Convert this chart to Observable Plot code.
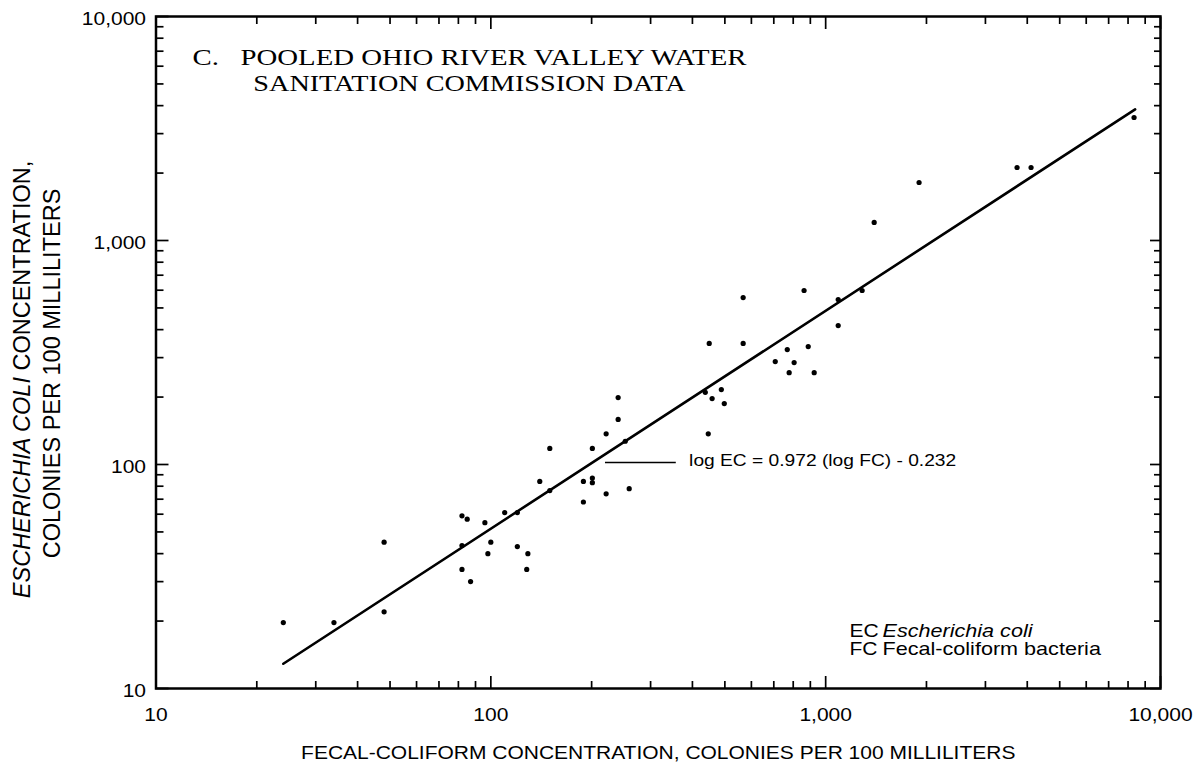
<!DOCTYPE html>
<html><head><meta charset="utf-8">
<script src="https://cdn.jsdelivr.net/npm/d3@7"></script>
<script src="https://cdn.jsdelivr.net/npm/@observablehq/plot@0.6"></script>
<style>
html,body{margin:0;padding:0;background:#fff;}
#chart{width:1203px;height:769px;overflow:hidden;}
</style></head><body><div id="chart"></div>
<script>
// ---- data ----
const fc = [24, 34, 48, 48, 82, 85, 82, 82, 87, 96, 100, 98, 110, 120, 120, 129, 128, 140, 150, 150,
            189, 201, 201, 189, 201, 221, 240, 240, 252, 221, 259, 437, 458, 488, 498, 446, 449, 567, 567,
            707, 768, 778, 805, 887, 924, 862, 1090, 1090, 1285, 1396, 1901, 3729, 4106, 8337];
const ec = [19.7, 19.7, 45, 22, 59, 57, 43.5, 34, 30, 55, 45, 40, 61, 61, 43, 40, 34, 84, 118, 76.5,
            84, 87, 83, 68, 118, 137, 199, 159, 127, 74, 78, 210, 197, 216, 187, 137, 347, 556, 347,
            288, 326, 257, 285, 336, 257, 598, 545, 417, 598, 1204, 1815, 2118, 2118, 3541];
// regression line log EC = 0.972 (log FC) - 0.232, end points
const lineFC = [24, 8400];
const lineEC = [12.9, 3850];

const majorTicks = [10, 100, 1000, 10000];
const minorTicks = [20, 30, 40, 50, 60, 70, 80, 90, 200, 300, 400, 500, 600, 700, 800, 900,
                    2000, 3000, 4000, 5000, 6000, 7000, 8000, 9000];
const tickLabels = ["10", "100", "1,000", "10,000"];

const titleLines = ["C.\u00a0\u00a0 POOLED OHIO RIVER VALLEY WATER", "SANITATION COMMISSION DATA"];
const xLabel = "FECAL-COLIFORM CONCENTRATION, COLONIES PER 100 MILLILITERS";
const yLabelItalic = "ESCHERICHIA COLI";
const yLabelLines = ["ESCHERICHIA COLI CONCENTRATION,", "COLONIES PER 100 MILLILITERS"];
const equation = "log EC = 0.972 (log FC) - 0.232";
const legendCodes = ["EC", "FC"];
const legendNames = ["Escherichia coli", "Fecal-coliform bacteria"];

// annotation anchor (data units)
const leader = {fc1: 220, fc2: 358, ec: 102};
const eqAt = {fc: 391, ec: 102};

const points = fc.map((v, i) => ({fc: v, ec: ec[i]}));
const fitLine = lineFC.map((v, i) => ({fc: v, ec: lineEC[i]}));

const sans = "'Liberation Sans', Arial, Helvetica, sans-serif";
const serif = "'Liberation Serif', 'Times New Roman', Times, serif";
const fmt = d => tickLabels[majorTicks.indexOf(d)];
const tk = {fill: "none", stroke: "#000", strokeWidth: 1.7, label: null};

const chart = Plot.plot({
  width: 1203, height: 769,
  marginLeft: 155.5, marginRight: 43, marginTop: 16, marginBottom: 81,
  style: {background: "#fff", color: "#000", fontFamily: sans},
  x: {type: "log", domain: [10, 10000]},
  y: {type: "log", domain: [10, 10000]},
  marks: [
    Plot.axisX(minorTicks, {...tk, anchor: "bottom", tickSize: -7}),
    Plot.axisX(majorTicks, {...tk, anchor: "bottom", tickSize: -12}),
    Plot.axisX(minorTicks, {...tk, anchor: "top", tickSize: -7}),
    Plot.axisX(majorTicks, {...tk, anchor: "top", tickSize: -12}),
    Plot.axisY(minorTicks, {...tk, anchor: "left", tickSize: -8}),
    Plot.axisY(majorTicks, {...tk, anchor: "left", tickSize: -13}),
    Plot.axisY(minorTicks, {...tk, anchor: "right", tickSize: -7}),
    Plot.axisY(majorTicks, {...tk, anchor: "right", tickSize: -11}),
    Plot.axisX(majorTicks, {anchor: "bottom", tickSize: 0, tickPadding: 20, tickFormat: fmt,
      fontSize: 17.5, fill: "#000", label: null}),
    Plot.axisY(majorTicks, {anchor: "left", tickSize: 0, tickPadding: 10, tickFormat: fmt,
      fontSize: 17.5, fill: "#000", dy: 3, label: null}),
    Plot.frame({stroke: "#000", strokeWidth: 2.5}),
    Plot.line(fitLine, {x: "fc", y: "ec", stroke: "#000", strokeWidth: 2.6}),
    Plot.dot(points, {x: "fc", y: "ec", r: 2.6, fill: "#000", stroke: "none"}),
    Plot.ruleY([leader], {y: "ec", x1: "fc1", x2: "fc2", stroke: "#000", strokeWidth: 1.4}),
    Plot.text([equation], {x: () => eqAt.fc, y: () => eqAt.ec, text: d => d, textAnchor: "start",
      lineAnchor: "middle", fontSize: 16, fill: "#000", dy: -2}),
    Plot.text([titleLines[0]], {text: d => d, frameAnchor: "top-left", dx: 313.5, dy: 31,
      textAnchor: "middle", lineAnchor: "top", fontFamily: serif, fontSize: 24, fill: "#000"}),
    Plot.text([titleLines[1]], {text: d => d, frameAnchor: "top-left", dx: 313.5, dy: 58,
      textAnchor: "middle", lineAnchor: "top", fontFamily: serif, fontSize: 23.5, fill: "#000"}),
    Plot.text([xLabel], {text: d => d, frameAnchor: "bottom", dy: 65, textAnchor: "middle",
      lineAnchor: "middle", fontSize: 17.5, fill: "#000"}),
    ...yLabelLines.map((s, i) => Plot.text([s], {text: d => d, frameAnchor: "left", dx: i === 0 ? -134 : -104,
      dy: i === 0 ? 27 : 21, rotate: -90, textAnchor: "middle", lineAnchor: "middle", fontSize: 23.5, fill: "#000"})),
    ...legendCodes.map((s, i) => Plot.text([s], {text: d => d, frameAnchor: "bottom-left", dx: 693.5,
      dy: -57 + 18 * i, textAnchor: "start", lineAnchor: "middle", fontSize: 17.5, fill: "#000"})),
    ...legendNames.map((s, i) => Plot.text([s], {text: d => d, frameAnchor: "bottom-left", dx: 726.5,
      dy: -57 + 18 * i, textAnchor: "start", lineAnchor: "middle", fontSize: 18, fill: "#000",
      fontStyle: i === 0 ? "italic" : "normal"}))
  ]
});

// widen horizontal glyphs like the (horizontally stretched) scanned original
chart.querySelectorAll("text").forEach(t => {
  if (t.textContent === yLabelLines[0]) {
    const rest = yLabelLines[0].slice(yLabelItalic.length);
    t.textContent = "";
    const ts = document.createElementNS("http://www.w3.org/2000/svg", "tspan");
    ts.setAttribute("font-style", "italic");
    ts.textContent = yLabelItalic;
    t.appendChild(ts);
    t.appendChild(document.createTextNode(rest));
  }
  const tr = t.getAttribute("transform") || "";
  if (!/rotate/.test(tr)) t.setAttribute("transform", tr + " scale(1.2,1)");
});

document.getElementById("chart").appendChild(chart);
</script></body></html>
